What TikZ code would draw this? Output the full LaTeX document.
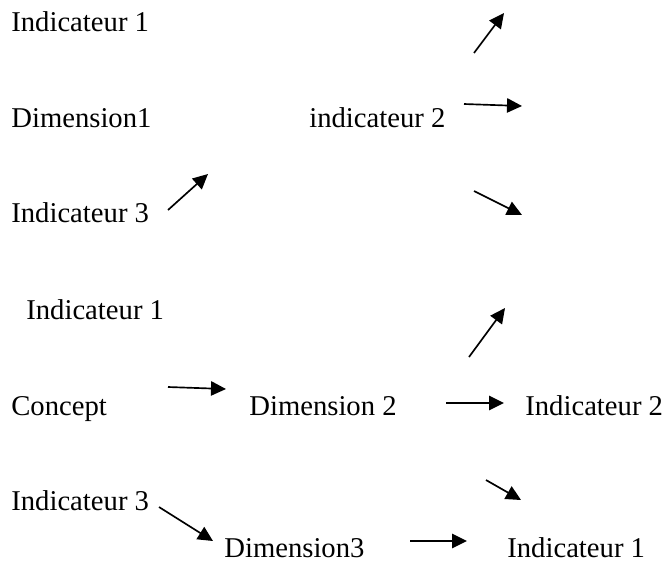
\documentclass[tikz,border=0pt]{standalone}
\usepackage{fontspec}
\setmainfont{Liberation Serif}
\usetikzlibrary{arrows.meta}

\tikzset{
  lbl/.style={inner sep=0pt, anchor=base west, font=\fontsize{17.2}{20}\selectfont},
  link/.style={line width=1pt, -{Triangle[length=9pt,width=8.6pt]}}
}

\begin{document}
\begin{tikzpicture}[x=0.6pt, y=-0.6pt]
  \useasboundingbox (0,0) rectangle (665,565);

  % Define nodes
  \node[lbl] at (11,31)   (ind1a) {Indicateur 1};
  \node[lbl] at (11,127)  (dim1)  {Dimension1};
  \node[lbl] at (309,127) (ind2a) {indicateur 2};
  \node[lbl] at (11,222)  (ind3a) {Indicateur 3};
  \node[lbl] at (26,319)  (ind1b) {Indicateur 1};
  \node[lbl] at (11,415)  (concept) {Concept};
  \node[lbl] at (249,415) (dim2)  {Dimension 2};
  \node[lbl] at (525,415) (ind2b) {Indicateur 2};
  \node[lbl] at (11,510)  (ind3b) {Indicateur 3};
  \node[lbl] at (224,557) (dim3)  {Dimension3};
  \node[lbl] at (507,557) (ind1c) {Indicateur 1};

  % Arrow ends
  \coordinate (a1s) at (168,210); \coordinate (a1e) at (208,174);
  \coordinate (a2s) at (474,53);  \coordinate (a2e) at (504,13);
  \coordinate (a3s) at (464,104); \coordinate (a3e) at (522,106);
  \coordinate (a4s) at (474,191); \coordinate (a4e) at (522,215);
  \coordinate (a5s) at (168,387); \coordinate (a5e) at (226,389);
  \coordinate (a6s) at (469,357); \coordinate (a6e) at (505,308);
  \coordinate (a7s) at (446,403); \coordinate (a7e) at (504,403);
  \coordinate (a8s) at (486,480); \coordinate (a8e) at (521,500);
  \coordinate (a9s) at (159,507); \coordinate (a9e) at (213,541);
  \coordinate (a10s) at (410,541); \coordinate (a10e) at (467,541);

  % Connect the nodes
  \draw[link] (a1s) -- (a1e);
  \draw[link] (a2s) -- (a2e);
  \draw[link] (a3s) -- (a3e);
  \draw[link] (a4s) -- (a4e);
  \draw[link] (a5s) -- (a5e);
  \draw[link] (a6s) -- (a6e);
  \draw[link] (a7s) -- (a7e);
  \draw[link] (a8s) -- (a8e);
  \draw[link] (a9s) -- (a9e);
  \draw[link] (a10s) -- (a10e);
\end{tikzpicture}
\end{document}
